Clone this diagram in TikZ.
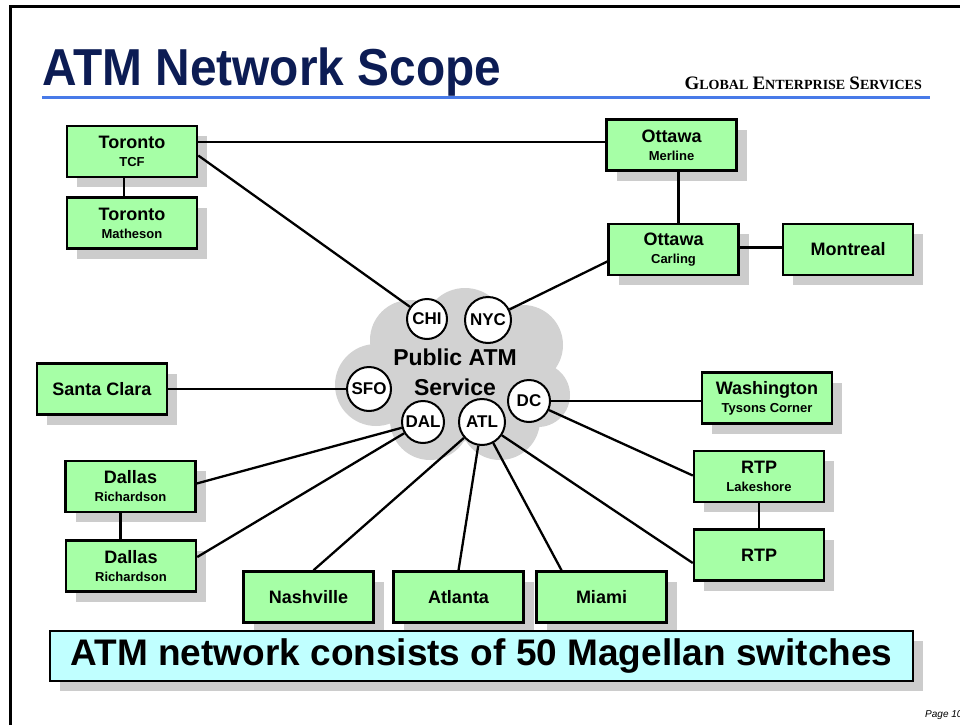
\documentclass[tikz,border=0pt]{standalone}
\usepackage{fontspec}
\setmainfont{Liberation Sans}
\newfontfamily\gesfont{Liberation Serif}
\usepackage{tikz}
\usetikzlibrary{shadows}

\definecolor{boxgreen}{RGB}{166,255,166}
\definecolor{shadowgray}{RGB}{204,204,204}
\definecolor{cloudgray}{RGB}{210,210,210}
\definecolor{bannercyan}{RGB}{192,255,255}
\definecolor{titleblue}{RGB}{12,28,84}
\definecolor{ruleblue}{RGB}{72,122,232}

\newcommand{\capword}[2]{{\fontsize{19}{19}\selectfont #1}{\fontsize{14}{14}\selectfont #2}}
\newcommand{\subline}[1]{\\[-2pt]{\fontsize{13}{15}\selectfont #1}}

\begin{document}
\begin{tikzpicture}[x=1pt,y=-1pt,
	site/.style={draw,line width=2.5pt,fill=boxgreen,minimum width=130pt,minimum height=51pt,
		align=center,inner sep=0pt,font=\fontsize{18}{20}\selectfont\bfseries,
		drop shadow={shadow xshift=10pt,shadow yshift=-10pt,fill=shadowgray,opacity=1}},
	hub/.style={circle,draw,line width=2pt,fill=white,inner sep=0pt,font=\fontsize{17}{17}\selectfont\bfseries},
	link/.style={line width=2.3pt}]

\useasboundingbox (0,0) rectangle (960,725);

%% Page frame and heading
\draw[line width=3pt] (10,725) -- (10,7) -- (960,7);
\node[anchor=base west,inner sep=0pt,text=titleblue,font=\fontsize{52}{52}\selectfont\bfseries] (title) at (42,85) {\scalebox{0.92}[1]{ATM Network Scope}};
\node[anchor=base east,inner sep=0pt,font=\gesfont\bfseries] (ges) at (922,89) {\capword{G}{LOBAL}\, \capword{E}{NTERPRISE}\, \capword{S}{ERVICES}};
\draw[ruleblue,line width=3pt] (42,97) -- (930,97);

%% Cloud
\begin{scope}[fill=cloudgray]
\fill (455,380) circle (62);
\fill (410,340) circle (40);
\fill (465,330) circle (42);
\fill (523,345) circle (40);
\fill (376,385) circle (41);
\fill (538,395) circle (32);
\fill (430,420) circle (40);
\fill (500,420) circle (40);
\end{scope}
\node[align=center,font=\fontsize{23}{30}\selectfont\bfseries] (pub) at (455,372) {Public ATM\\Service};

%% Sites
\node[site] (tcf) at (132,151.5) {Toronto\subline{TCF}};
\node[site] (math) at (132,223) {Toronto\subline{Matheson}};
\node[site] (merline) at (671.5,145) {Ottawa\subline{Merline}};
\node[site] (carling) at (673.5,249.5) {Ottawa\subline{Carling}};
\node[site] (montreal) at (848,249.5) {Montreal};
\node[site] (santa) at (102,389) {Santa Clara};
\node[site] (wash) at (767,398) {Washington\subline{Tysons Corner}};
\node[site] (dal1) at (130.5,486.5) {Dallas\subline{Richardson}};
\node[site] (dal2) at (131,566) {Dallas\subline{Richardson}};
\node[site] (lake) at (759,476.5) {RTP\subline{Lakeshore}};
\node[site] (rtp) at (759,555) {RTP};
\node[site] (nash) at (308.5,597) {Nashville};
\node[site] (atlbox) at (458.5,597) {Atlanta};
\node[site] (miami) at (601.5,597) {Miami};

%% Switch sites in the cloud
\node[hub,minimum size=40pt] (chi) at (427,319) {CHI};
\node[hub,minimum size=46pt] (nyc) at (488,320) {NYC};
\node[hub,minimum size=44pt] (sfo) at (369,389) {SFO};
\node[hub,minimum size=42pt] (dal) at (423,422) {DAL};
\node[hub,minimum size=46pt] (atl) at (482,422) {ATL};
\node[hub,minimum size=42pt] (dc) at (529,401) {DC};

%% Links
\coordinate (mw) at ([yshift=3pt]merline.west);
\draw[link] (tcf.east |- mw) -- (mw);
\draw[link] ([yshift=-4pt]tcf.east) -- (chi);
\draw[link] ([xshift=-8pt]tcf.south) -- ([xshift=-8pt]math.north);
\draw[link] ([xshift=7pt]merline.south) -- ([xshift=7pt]merline.south |- carling.north);
\draw[link] ([yshift=2pt]carling.east) -- ([yshift=2pt]montreal.west);
\draw[link] ([yshift=-12pt]carling.west) -- (nyc);
\draw[link] (santa) -- (sfo);
\draw[link] (dc) -- (dc -| wash.west);
\draw[link] (dc) -- ([yshift=1pt]lake.west);
\draw[link] (atl) -- ([yshift=-8pt]rtp.west);
\draw[link] (lake) -- (rtp);
\draw[link] (dal) -- ([yshift=3pt]dal1.east);
\draw[link] (dal) -- ([yshift=9pt]dal2.east);
\draw[link] ([xshift=-10pt]dal1.south) -- ([xshift=-10pt]dal1.south |- dal2.north);
\draw[link] (atl) -- ([xshift=5pt]nash.north);
\draw[link] (atl) -- (atlbox.north);
\draw[link] (atl) -- ([xshift=-40pt]miami.north);

%% Banner
\node[draw,line width=2.5pt,fill=bannercyan,minimum width=863pt,minimum height=50pt,inner sep=0pt,
	font=\fontsize{37}{37}\selectfont\bfseries,
	drop shadow={shadow xshift=10pt,shadow yshift=-10pt,fill=shadowgray,opacity=1}] (banner) at (481.5,656) {ATM network consists of 50 Magellan switches};

\node[anchor=base west,inner sep=0pt,font=\fontsize{10}{10}\selectfont\itshape] (page) at (925,717) {Page 10};
\end{tikzpicture}
\end{document}
